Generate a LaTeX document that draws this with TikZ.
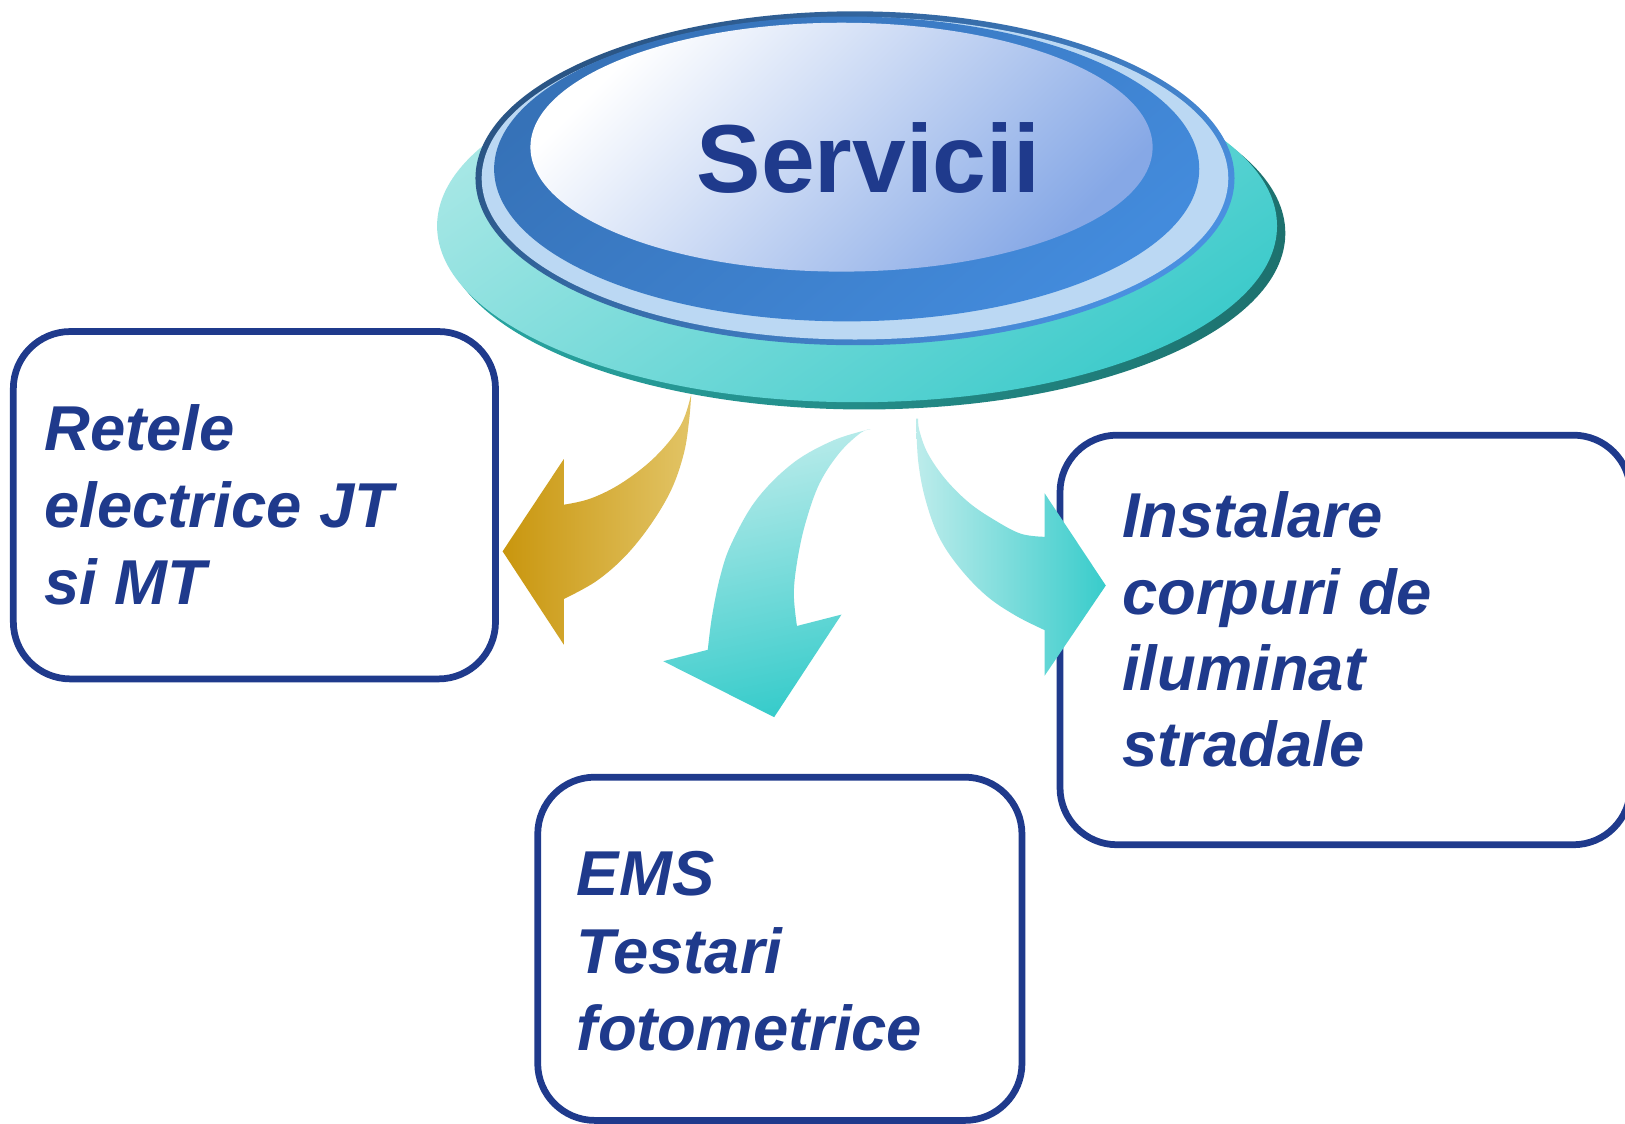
\documentclass[tikz,border=0pt]{standalone}
\usepackage{fontspec}
\setmainfont{Liberation Sans}
\definecolor{navy}{HTML}{1F3A8C}
\definecolor{goldD}{HTML}{C9960E}
\definecolor{goldL}{HTML}{E2C466}
\definecolor{tealL}{HTML}{BDECEB}
\definecolor{tealD}{HTML}{38CCCB}
\definecolor{baseL}{HTML}{A6E7E5}
\definecolor{baseD}{HTML}{3ECBCB}
\definecolor{shadowA}{HTML}{28A6A2}
\definecolor{shadowB}{HTML}{1D716E}
\definecolor{outerA}{HTML}{2A5585}
\definecolor{outerB}{HTML}{4A90E0}
\definecolor{ringL}{HTML}{BBD8F3}
\definecolor{midA}{HTML}{3672B8}
\definecolor{midB}{HTML}{438BDC}
\definecolor{innerM}{HTML}{DDE6F7}
\definecolor{innerB}{HTML}{86A8E6}
\begin{document}
\begin{tikzpicture}[x=0.01cm,y=-0.01cm,
  boxst/.style={draw=navy, line width=1.85pt, rounded corners=0.55cm, fill=white, inner sep=0pt},
  lbl/.style={font=\fontsize{17.4}{20}\selectfont\bfseries\itshape, text=navy, inner sep=0pt, anchor=base west},
  title/.style={font=\fontsize{26.5}{30}\selectfont\bfseries, text=navy, inner sep=0pt, anchor=base}]
\useasboundingbox (0,0) rectangle (1568,1084);
\fill[white] (0,0) rectangle (1568,1084);

% boxes
\node[boxst, minimum width=4.65cm, minimum height=3.35cm] (b1) at (245.5,487.5) {};
\node[boxst, minimum width=4.67cm, minimum height=3.31cm] (b2) at (752.5,915.5) {};
\node[boxst, minimum width=5.50cm, minimum height=3.95cm] (b3) at (1298,617.5) {};

% box texts
\node[lbl] (t1a) at (42,435) {Retele};
\node[lbl] (t1b) at (42,509) {electrice JT};
\node[lbl] (t1c) at (42,583) {si MT};
\node[lbl] (t2a) at (556,864) {EMS};
\node[lbl] (t2b) at (556,939) {Testari};
\node[lbl] (t2c) at (556,1014) {fotometrice};
\node[lbl] (t3a) at (1082,519) {Instalare};
\node[lbl] (t3b) at (1082,593) {corpuri de};
\node[lbl] (t3c) at (1082,666) {iluminat};
\node[lbl] (t3d) at (1082,740) {stradale};

% gold arrow (to left box)
\shade[left color=goldD, right color=goldL]
  plot[smooth, tension=0.6] coordinates {(667,380) (657,410) (632,441) (600,466) (570,481) (544,487)}
  -- (544,443) -- (485,532) -- (544,622) -- (544,578)
  -- plot[smooth, tension=0.6] coordinates {(544,578) (575,561) (603,537) (628,506) (648,472) (660,437) (665,405) (667,380)}
  -- cycle;

% middle arrow (to bottom box)
\shade[top color=tealL, bottom color=tealD, shading angle=12]
  plot[smooth, tension=0.6] coordinates {(840,414) (804,425) (765,447) (730,482) (706,524) (695,556) (687,595) (683,627)}
  -- (640,638) -- (747,692) -- (812,593) -- (769,604)
  -- plot[smooth, tension=0.6] coordinates {(769,604) (766,572) (770,537) (778,502) (791,466) (810,437) (830,418) (840,414)}
  -- cycle;

% right arrow (to right box)
\shade[left color=tealL, right color=tealD]
  plot[smooth, tension=0.6] coordinates {(884,404) (886,445) (893,482) (906,518) (926,548) (952,575) (980,594) (1008,608)}
  -- (1008,652) -- (1067,565) -- (1008,476) -- (1008,518)
  -- plot[smooth, tension=0.6] coordinates {(1008,518) (985,515) (960,502) (935,485) (912,462) (895,437) (887,415) (886,404)}
  -- cycle;

% central ellipse stack
\shade[left color=shadowA, right color=shadowB] (834,225) ellipse [x radius=4.06cm, y radius=1.70cm];
\shade[top color=baseL, bottom color=baseD, shading angle=35] (827,218) ellipse [x radius=4.05cm, y radius=1.70cm];
\shade[top color=outerA, bottom color=outerB, shading angle=40] (825,172) ellipse [x radius=3.66cm, y radius=1.61cm];
\fill[ringL] (825,172) ellipse [x radius=3.60cm, y radius=1.555cm];
\shade[top color=midA, bottom color=midB, shading angle=40] (817,163) ellipse [x radius=3.40cm, y radius=1.47cm];
\shade[top color=white, middle color=innerM, bottom color=innerB, shading angle=45] (812,142) ellipse [x radius=3.00cm, y radius=1.20cm];
\node[title] (serv) at (838,186) {Servicii};
\end{tikzpicture}
\end{document}
